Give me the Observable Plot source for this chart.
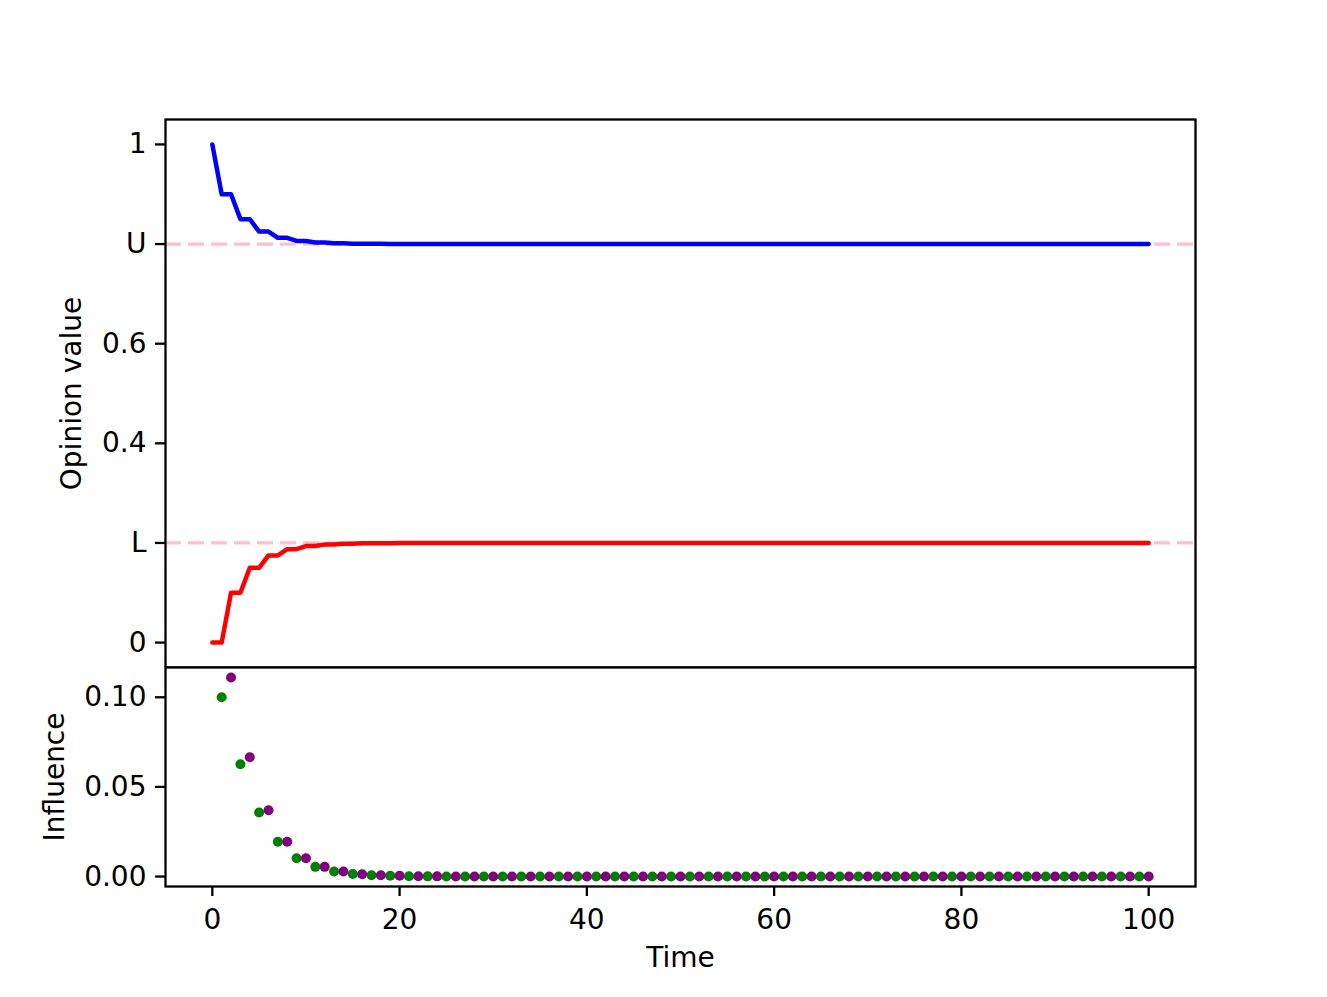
<!DOCTYPE html>
<html>
<head>
<meta charset="utf-8">
<script src="https://cdn.jsdelivr.net/npm/d3@7"></script>
<script src="https://cdn.jsdelivr.net/npm/@observablehq/plot@0.6"></script>
<style>
  html, body { margin: 0; padding: 0; background: #fff; }
  #fig { position: relative; width: 1327px; height: 997px; background: #fff; }
  #fig svg { position: absolute; left: 0; overflow: visible; }
</style>
</head>
<body>
<div id="fig"></div>
<script>
// ---- data ----
const time = d3.range(0, 101);

// Upper (blue) opinion trajectory, t = 0..100
const upperOpinion = [
  1, 0.9, 0.9, 0.85, 0.85, 0.825, 0.825, 0.8125, 0.8125, 0.8063,
  0.8063, 0.8031, 0.8031, 0.8016, 0.8016, 0.8008, 0.8008, 0.8004, 0.8004, 0.8002,
  0.8002, 0.8001, 0.8001, 0.8, 0.8, 0.8, 0.8, 0.8, 0.8, 0.8,
  0.8, 0.8, 0.8, 0.8, 0.8, 0.8, 0.8, 0.8, 0.8, 0.8,
  0.8, 0.8, 0.8, 0.8, 0.8, 0.8, 0.8, 0.8, 0.8, 0.8,
  0.8, 0.8, 0.8, 0.8, 0.8, 0.8, 0.8, 0.8, 0.8, 0.8,
  0.8, 0.8, 0.8, 0.8, 0.8, 0.8, 0.8, 0.8, 0.8, 0.8,
  0.8, 0.8, 0.8, 0.8, 0.8, 0.8, 0.8, 0.8, 0.8, 0.8,
  0.8, 0.8, 0.8, 0.8, 0.8, 0.8, 0.8, 0.8, 0.8, 0.8,
  0.8, 0.8, 0.8, 0.8, 0.8, 0.8, 0.8, 0.8, 0.8, 0.8,
  0.8
];

// Lower (red) opinion trajectory, t = 0..100
const lowerOpinion = [
  0, 0, 0.1, 0.1, 0.15, 0.15, 0.175, 0.175, 0.1875, 0.1875,
  0.1938, 0.1938, 0.1969, 0.1969, 0.1984, 0.1984, 0.1992, 0.1992, 0.1996, 0.1996,
  0.1998, 0.1998, 0.2, 0.2, 0.2, 0.2, 0.2, 0.2, 0.2, 0.2,
  0.2, 0.2, 0.2, 0.2, 0.2, 0.2, 0.2, 0.2, 0.2, 0.2,
  0.2, 0.2, 0.2, 0.2, 0.2, 0.2, 0.2, 0.2, 0.2, 0.2,
  0.2, 0.2, 0.2, 0.2, 0.2, 0.2, 0.2, 0.2, 0.2, 0.2,
  0.2, 0.2, 0.2, 0.2, 0.2, 0.2, 0.2, 0.2, 0.2, 0.2,
  0.2, 0.2, 0.2, 0.2, 0.2, 0.2, 0.2, 0.2, 0.2, 0.2,
  0.2, 0.2, 0.2, 0.2, 0.2, 0.2, 0.2, 0.2, 0.2, 0.2,
  0.2, 0.2, 0.2, 0.2, 0.2, 0.2, 0.2, 0.2, 0.2, 0.2,
  0.2
];

// Influence at odd times t = 1,3,...,99 (green)
const greenInfluence = [
  0.1, 0.0626, 0.0357, 0.0194, 0.0102, 0.0054, 0.0028, 0.0014, 0.0007, 0.0004,
  0.0002, 0.0001, 0, 0, 0, 0, 0, 0, 0, 0,
  0, 0, 0, 0, 0, 0, 0, 0, 0, 0,
  0, 0, 0, 0, 0, 0, 0, 0, 0, 0,
  0, 0, 0, 0, 0, 0, 0, 0, 0, 0
];

// Influence at even times t = 2,4,...,100 (purple)
const purpleInfluence = [
  0.111, 0.0665, 0.037, 0.0194, 0.0102, 0.0054, 0.0028, 0.0013, 0.0007, 0.0004,
  0.0002, 0.0001, 0, 0, 0, 0, 0, 0, 0, 0,
  0, 0, 0, 0, 0, 0, 0, 0, 0, 0,
  0, 0, 0, 0, 0, 0, 0, 0, 0, 0,
  0, 0, 0, 0, 0, 0, 0, 0, 0, 0
];

const thresholds = [0.8, 0.2]; // U and L
const opinionTicks = [0, 0.2, 0.4, 0.6, 0.8, 1];
const opinionTickLabels = ["0", "L", "0.4", "0.6", "U", "1"];
const influenceTicks = [0, 0.05, 0.1];
const influenceTickLabels = ["0.00", "0.05", "0.10"];
const timeTicks = [0, 20, 40, 60, 80, 100];

// ---- drawing ----
const FONT = "DejaVu Sans, sans-serif";
const FS = 28;
const plotStyle = { fontFamily: FONT, fontSize: FS + "px", color: "black", background: "white", overflow: "visible" };
const xDomain = [-5, 105];

const topPanel = Plot.plot({
  width: 1327, height: 667,
  marginTop: 119, marginBottom: 0, marginLeft: 165, marginRight: 132,
  style: plotStyle,
  x: { domain: xDomain, axis: null },
  y: { domain: [-0.05, 1.05] },
  marks: [
    Plot.ruleY(thresholds, { stroke: "pink", strokeWidth: 3.2, strokeDasharray: "16,7" }),
    Plot.line(time, { x: d => d, y: (d, i) => upperOpinion[i], stroke: "blue", strokeWidth: 4.5 }),
    Plot.line(time, { x: d => d, y: (d, i) => lowerOpinion[i], stroke: "red", strokeWidth: 4.5 }),
    Plot.axisY({
      ticks: opinionTicks,
      tickFormat: (d) => opinionTickLabels[opinionTicks.indexOf(d)],
      tickSize: 10, tickPadding: 9, strokeWidth: 2.3, fontSize: FS, label: null
    }),
    Plot.text(["Opinion value"], { frameAnchor: "left", textAnchor: "middle", lineAnchor: "middle", dx: -93, rotate: -90, fontSize: FS, fill: "black" }),
    Plot.frame({ stroke: "black", strokeWidth: 2.3 })
  ]
});
topPanel.style.top = "0px";

const bottomPanel = Plot.plot({
  width: 1327, height: 330,
  marginTop: 0, marginBottom: 111, marginLeft: 165, marginRight: 132,
  style: plotStyle,
  x: { domain: xDomain },
  y: { domain: [-0.00555, 0.1166] },
  marks: [
    Plot.dot(greenInfluence, { x: (d, i) => 2 * i + 1, y: d => d, fill: "green", r: 5 }),
    Plot.dot(purpleInfluence, { x: (d, i) => 2 * i + 2, y: d => d, fill: "purple", r: 5 }),
    Plot.axisY({
      ticks: influenceTicks,
      tickFormat: (d) => influenceTickLabels[influenceTicks.indexOf(d)],
      tickSize: 10, tickPadding: 9, strokeWidth: 2.3, fontSize: FS, label: null
    }),
    Plot.axisX({
      ticks: timeTicks, tickFormat: d => String(d),
      tickSize: 10, tickPadding: 13, strokeWidth: 2.3, fontSize: FS, label: null
    }),
    Plot.text(["Influence"], { frameAnchor: "left", textAnchor: "middle", lineAnchor: "middle", dx: -110, rotate: -90, fontSize: FS, fill: "black" }),
    Plot.text(["Time"], { frameAnchor: "bottom", lineAnchor: "middle", dy: 72, fontSize: FS, fill: "black" }),
    Plot.frame({ stroke: "black", strokeWidth: 2.3 })
  ]
});
bottomPanel.style.top = "667px";

const fig = document.getElementById("fig");
fig.appendChild(topPanel);
fig.appendChild(bottomPanel);
</script>
</body>
</html>
